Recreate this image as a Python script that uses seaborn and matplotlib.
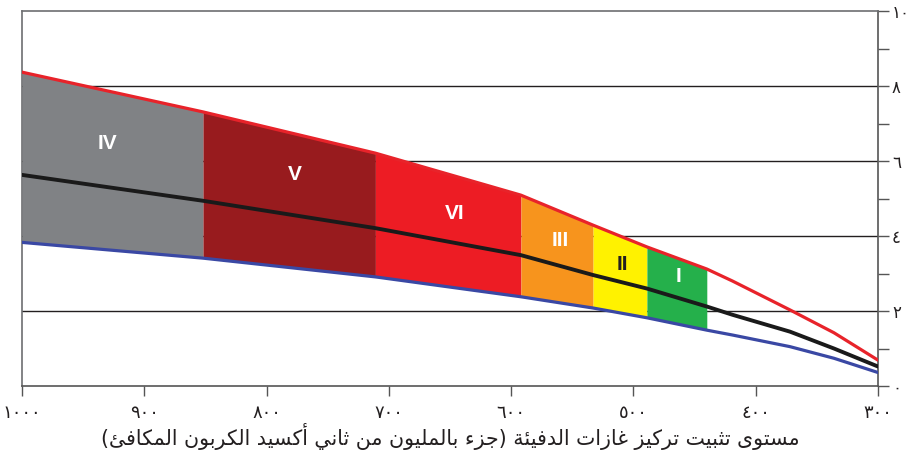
import numpy as np
import pandas as pd
import matplotlib
matplotlib.use("Agg")
import matplotlib.pyplot as plt
import seaborn as sns

# ---------------- data ----------------
ppm = [1000, 852, 711, 592, 533, 489, 440, 419, 372, 336, 300]
upper = [8.37, 7.31, 6.21, 5.09, 4.29, 3.71, 3.12, 2.80, 2.03, 1.42, 0.69]
median = [5.63, 4.94, 4.21, 3.49, 2.96, 2.60, 2.12, 1.90, 1.45, 1.00, 0.52]
lower = [3.83, 3.41, 2.91, 2.38, 2.08, 1.82, 1.49, 1.36, 1.05, 0.74, 0.36]

categories = ["IV", "V", "VI", "III", "II", "I"]
band_start = [1000, 852, 711, 592, 533, 489]
band_end = [852, 711, 592, 533, 489, 440]
band_colors = ["#808285", "#981B1E", "#ED1C24", "#F7941D", "#FFF200", "#25B04B"]
label_colors = ["white", "white", "white", "white", "#231F20", "white"]
label_x = [930, 777, 646, 560, 509, 463]
label_y = [6.48, 5.65, 4.59, 3.87, 3.25, 2.93]

x_ticks = [1000, 900, 800, 700, 600, 500, 400, 300]
x_tick_labels = ["١٠٠٠", "٩٠٠", "٨٠٠", "٧٠٠", "٦٠٠", "٥٠٠", "٤٠٠", "٣٠٠"]
y_ticks = [0, 2, 4, 6, 8, 10]
y_tick_labels = ["٠", "٢", "٤", "٦", "٨", "١٠"]
x_label = "مستوى تثبيت تركيز غازات الدفيئة (جزء بالمليون من ثاني أكسيد الكربون المكافئ)"

# ---------------- minimal Arabic shaping (presentation forms) + RTL order ----------------
DUAL = {'\u0626': 0xFE89, '\u0628': 0xFE8F, '\u062A': 0xFE95, '\u062B': 0xFE99,
        '\u062C': 0xFE9D, '\u062D': 0xFEA1, '\u062E': 0xFEA5, '\u0633': 0xFEB1,
        '\u0634': 0xFEB5, '\u0635': 0xFEB9, '\u0636': 0xFEBD, '\u0637': 0xFEC1,
        '\u0638': 0xFEC5, '\u0639': 0xFEC9, '\u063A': 0xFECD, '\u0641': 0xFED1,
        '\u0642': 0xFED5, '\u0643': 0xFED9, '\u0644': 0xFEDD, '\u0645': 0xFEE1,
        '\u0646': 0xFEE5, '\u0647': 0xFEE9, '\u064A': 0xFEF1}
RIGHT = {'\u0622': 0xFE81, '\u0623': 0xFE83, '\u0624': 0xFE85, '\u0625': 0xFE87,
         '\u0627': 0xFE8D, '\u0629': 0xFE93, '\u062F': 0xFEA9, '\u0630': 0xFEAB,
         '\u0631': 0xFEAD, '\u0632': 0xFEAF, '\u0648': 0xFEED}
LAMALEF = {'\u0622': 0xFEF5, '\u0623': 0xFEF7, '\u0625': 0xFEF9, '\u0627': 0xFEFB}
NONJOIN = {'\u0621': 0xFE80}
MIRROR = {'(': ')', ')': '(', '[': ']', ']': '['}


def shape_rtl(text):
    toks = []
    i = 0
    while i < len(text):
        c = text[i]
        if c == '\u0644' and i + 1 < len(text) and text[i + 1] in LAMALEF:
            toks.append(('LA', text[i + 1]))
            i += 2
        else:
            toks.append(('C', c))
            i += 1

    def jtype(t):
        kind, c = t
        if kind == 'LA':
            return 'R'
        if c in DUAL or c == '\u0649':
            return 'D'
        if c in RIGHT:
            return 'R'
        return 'U'

    out = []
    n = len(toks)
    for k, t in enumerate(toks):
        jt = jtype(t)
        prev = k > 0 and jtype(toks[k - 1]) == 'D' and jt in ('D', 'R')
        nxt = jt == 'D' and k + 1 < n and jtype(toks[k + 1]) in ('D', 'R')
        kind, c = t
        if kind == 'LA':
            out.append(chr(LAMALEF[c] + (1 if prev else 0)))
        elif c == '\u0649':
            out.append('\uFEF0' if prev else '\uFEEF')
        elif c in DUAL:
            b = DUAL[c]
            off = 3 if (prev and nxt) else 1 if prev else 2 if nxt else 0
            out.append(chr(b + off))
        elif c in RIGHT:
            out.append(chr(RIGHT[c] + (1 if prev else 0)))
        elif c in NONJOIN:
            out.append(chr(NONJOIN[c]))
        else:
            out.append(MIRROR.get(c, c))
    return ''.join(reversed(out))


# ---------------- plot ----------------
sns.set_theme(style="white")
plt.rcParams['font.family'] = ['DejaVu Sans']

df = pd.DataFrame({"ppm": ppm, "upper": upper, "median": median, "lower": lower})

fig = plt.figure(figsize=(9.09, 4.67), dpi=100)
ax = fig.add_axes([0.0242, 0.1734, 0.9417, 0.8030])

# grid lines (behind the bands)
for g in [2, 4, 6, 8]:
    ax.axhline(g, color="#231F20", lw=1.0, zorder=0)

# coloured bands
for cat, s, e, col in zip(categories, band_start, band_end, band_colors):
    i0, i1 = ppm.index(s), ppm.index(e)
    ax.fill_between(ppm[i0:i1 + 1], lower[i0:i1 + 1], upper[i0:i1 + 1],
                    color=col, lw=0, zorder=1)

sns.lineplot(data=df, x="ppm", y="upper", ax=ax, color="#E8232A", lw=2.3, zorder=3)
sns.lineplot(data=df, x="ppm", y="lower", ax=ax, color="#3A48A4", lw=2.3, zorder=3)
sns.lineplot(data=df, x="ppm", y="median", ax=ax, color="#1A1A1A", lw=2.8, zorder=4)

for cat, lx, ly, lc in zip(categories, label_x, label_y, label_colors):
    ax.text(lx, ly, cat, ha="center", va="center", color=lc, fontsize=15,
            fontweight="bold", family=["Liberation Sans"], zorder=5)

ax.set_xlim(1000, 300)
ax.set_ylim(0, 10)

ax.set_xticks(x_ticks)
ax.set_xticklabels(x_tick_labels, fontsize=13, color="#231F20")
ax.yaxis.tick_right()
ax.set_yticks(y_ticks)
ax.set_yticklabels(y_tick_labels, fontsize=12, color="#231F20")
ax.set_yticks([1, 3, 5, 7, 9], minor=True)
ax.tick_params(axis="x", which="both", direction="out", length=7, width=1,
               color="#555555", pad=6, bottom=True)
ax.tick_params(axis="y", which="both", direction="out", length=8, width=1,
               color="#555555", pad=2, right=True, left=False)

ax.set_xlabel(shape_rtl(x_label), fontsize=14.8, color="#231F20", labelpad=1)
ax.set_ylabel("")

for side in ["left", "right", "top", "bottom"]:
    ax.spines[side].set_visible(True)
    ax.spines[side].set_color("#6D6E71")
    ax.spines[side].set_linewidth(1.2)
ax.spines["bottom"].set_color("#555555")
ax.spines["right"].set_color("#555555")

fig.savefig("out.png", dpi=100)
